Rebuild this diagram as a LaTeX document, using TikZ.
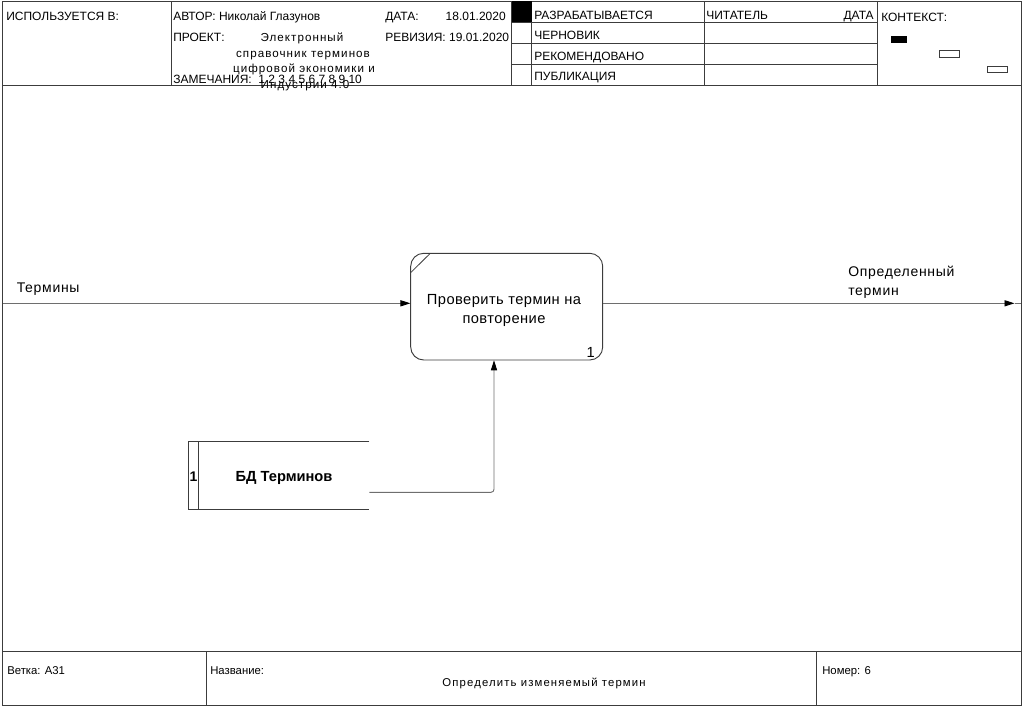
\documentclass[tikz,border=0pt]{standalone}
\usepackage{fontspec}
\setmainfont{Liberation Sans}
\usetikzlibrary{arrows.meta}
\definecolor{frameclr}{RGB}{60,60,60}
\definecolor{arrowclr}{RGB}{110,110,110}
\begin{document}
\begin{tikzpicture}[x=0.75pt,y=-0.75pt,
  frame/.style={draw=frameclr,line width=0.7pt},
  hdr/.style={anchor=base west,inner sep=0pt,font=\fontsize{9pt}{10pt}\selectfont},
  hdrr/.style={anchor=base east,inner sep=0pt,font=\fontsize{9pt}{10pt}\selectfont},
  projtxt/.style={anchor=base,inner sep=0pt,font=\fontsize{8.7pt}{11.6pt}\selectfont\addfontfeature{LetterSpace=9}},
  ftr/.style={anchor=base west,inner sep=0pt,font=\fontsize{8.5pt}{10pt}\selectfont},
  lbl/.style={anchor=base west,inner sep=0pt,align=left,font=\fontsize{10.5pt}{14.3pt}\selectfont\addfontfeature{LetterSpace=5}},
  conn/.style={draw=arrowclr,line width=0.7pt},
  tip/.style={-{Triangle[length=7.5pt,width=4.6pt,color=black]}}
]
\useasboundingbox (0,0) rectangle (1023,707);
% outer frame
\draw[frame] (2.5,1) rectangle (1021,705);
% header
\draw[frame] (2.5,85) -- (1021,85);
\draw[frame] (171,1) -- (171,85);
\draw[frame] (511.5,1) -- (511.5,85);
\draw[frame] (531.5,1) -- (531.5,85);
\draw[frame] (704,1) -- (704,85);
\draw[frame] (877,1) -- (877,85);
\draw[frame] (511.5,22.3) -- (877,22.3);
\draw[frame] (511.5,43.3) -- (877,43.3);
\draw[frame] (511.5,64.3) -- (877,64.3);
\fill[black] (511.5,1) rectangle (531.5,22.3);
% context
\fill[black] (891,36) rectangle (906.5,43);
\draw[frameclr,line width=0.6pt] (939.5,50.7) rectangle (959.3,57.5);
\draw[frameclr,line width=0.6pt] (987.5,66) rectangle (1007.7,72.8);
% header texts
\node[hdr] (used) at (6,20) {ИСПОЛЬЗУЕТСЯ В:};
\node[hdr] (author) at (173,20) {АВТОР: Николай Глазунов};
\node[hdr] (date) at (385,20) {ДАТА:};
\node[hdrr] (dateval) at (506,20) {18.01.2020};
\node[hdr] (project) at (173,41) {ПРОЕКТ:};
\node[hdr] (rev) at (385,41) {РЕВИЗИЯ: 19.01.2020};
\node[hdr] (notes) at (173,83) {ЗАМЕЧАНИЯ:\ \ 1 2 3 4 5 6 7 8 9 10};
\node[projtxt] (projl1) at (302,41.5) {Электронный};
\node[projtxt] (projl2) at (303,57) {справочник терминов};
\node[projtxt] (projl3) at (304,72.5) {цифровой экономики и};
\node[projtxt] (projl4) at (305,88) {Индустрии 4.0};
\node[hdr] (s1) at (534,19.5) {РАЗРАБАТЫВАЕТСЯ};
\node[hdr] (s2) at (534,39.5) {ЧЕРНОВИК};
\node[hdr] (s3) at (534,60) {РЕКОМЕНДОВАНО};
\node[hdr] (s4) at (534,80.5) {ПУБЛИКАЦИЯ};
\node[hdr] (reader) at (706,19.5) {ЧИТАТЕЛЬ};
\node[hdrr] (rdate) at (874,19.5) {ДАТА};
\node[hdr] (ctx) at (881,21) {КОНТЕКСТ:};
% footer
\draw[frame] (2.5,651.5) -- (1021,651.5);
\draw[frame] (206,651.5) -- (206,705);
\draw[frame] (816,651.5) -- (816,705);
\node[ftr] (branch) at (7,674.5) {Ветка: А31};
\node[ftr] (name) at (210,674.5) {Название:};
\node[ftr] (num) at (822,674.5) {Номер: 6};
\node[anchor=base,inner sep=0pt,font=\fontsize{8.5pt}{10pt}\selectfont\addfontfeature{LetterSpace=10}] (title) at (544,686) {Определить изменяемый термин};
% process box
\draw[frameclr,line width=0.7pt,rounded corners=13*0.75pt] (410.7,253.3) rectangle (602.7,360);
\node[inner sep=0pt,minimum width=192*0.75pt,minimum height=106.7*0.75pt] (proc) at (506.7,306.65) {};
\draw[frameclr,line width=0.6pt] (411,272.3) -- (430,253.6);
\node[anchor=base,inner sep=0pt,align=center,font=\fontsize{11pt}{13.9pt}\selectfont\addfontfeature{LetterSpace=3}] (ptext) at (504,323.5) {Проверить термин на\\повторение};
\node[anchor=base east,inner sep=0pt,font=\fontsize{11pt}{13pt}\selectfont] (pnum) at (595,357) {1};
% data store
\draw[frameclr,line width=0.7pt] (369.3,441.7) -- (188.3,441.7) -- (188.3,509) -- (369.3,509);
\draw[frameclr,line width=0.7pt] (198.3,441.7) -- (198.3,509);
\node[inner sep=0pt,minimum width=181*0.75pt,minimum height=67.3*0.75pt] (store) at (278.8,475.35) {};
\node[anchor=base west,inner sep=0pt,font=\fontsize{10.5pt}{12pt}\selectfont\bfseries] (snum) at (189.3,481.7) {1};
\node[anchor=base,inner sep=0pt,font=\fontsize{11pt}{13pt}\selectfont\bfseries] (sname) at (284,481.7) {БД Терминов};
% arrows
\coordinate (inStart) at (2.5,303.3);
\coordinate (outEnd) at (1014.5,303.3);
\coordinate (frameR) at (1021,303.3);
\draw[conn,tip] (inStart) -- (proc.west |- inStart);
\draw[conn,tip] (proc.east |- outEnd) -- (outEnd);
\draw[conn] (outEnd) -- (frameR);
\coordinate (storeOut) at (369.3,492.3);
\coordinate (corner) at (494,492.3);
\draw[conn,tip,rounded corners=3*0.75pt] (storeOut) -- (corner) -- (corner |- proc.south);
\node[lbl] (inlbl) at (16.5,292.7) {Термины};
\node[lbl] (outlbl) at (848,295.5) {Определенный\\термин};
\end{tikzpicture}
\end{document}
